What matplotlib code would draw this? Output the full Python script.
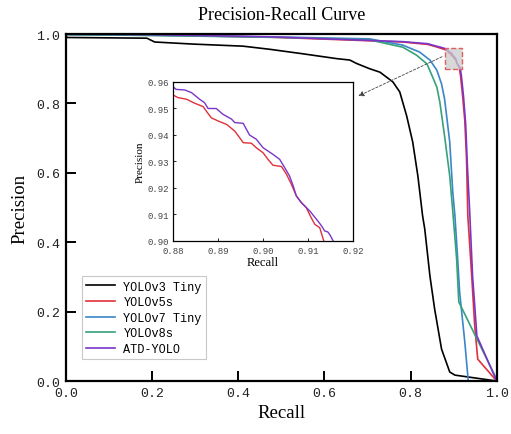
import matplotlib
matplotlib.use("Agg")
import matplotlib.pyplot as plt
from matplotlib.patches import Rectangle

# ---- data ----
recall_v3 = [0.0, 0.003, 0.188, 0.206, 0.295, 0.411, 0.473, 0.55, 0.629, 0.659, 0.675,
             0.705, 0.729, 0.759, 0.775, 0.791, 0.805, 0.817, 0.828, 0.833, 0.845,
             0.856, 0.872, 0.891, 0.903, 1.0]
prec_v3 = [0.995, 0.99, 0.988, 0.977, 0.971, 0.965, 0.956, 0.943, 0.929, 0.925, 0.915,
           0.9, 0.89, 0.862, 0.833, 0.764, 0.689, 0.591, 0.476, 0.438, 0.303,
           0.207, 0.092, 0.026, 0.017, 0.0]

recall_v5 = [0.0, 0.2, 0.473, 0.629, 0.782, 0.84, 0.86, 0.87,
             0.88, 0.8811, 0.883, 0.8848, 0.8867, 0.8874, 0.8885, 0.89, 0.8919, 0.8937,
             0.8948, 0.8956, 0.8974, 0.8985, 0.9, 0.9011, 0.9022, 0.9041, 0.9052, 0.9063,
             0.9074, 0.9085, 0.9096, 0.9107, 0.9115, 0.9126, 0.9135,
             0.916, 0.921, 0.926, 0.930, 0.933, 0.942, 0.949, 0.956, 1.0]
prec_v5 = [0.999, 0.997, 0.991, 0.984, 0.977, 0.97, 0.963, 0.959,
           0.9551, 0.9541, 0.9535, 0.952, 0.9507, 0.949, 0.9465, 0.9453, 0.944, 0.9415,
           0.939, 0.9371, 0.9369, 0.9352, 0.9333, 0.9308, 0.9286, 0.9281, 0.9252, 0.9214,
           0.917, 0.9145, 0.9126, 0.9088, 0.9063, 0.905, 0.90,
           0.88, 0.82, 0.75, 0.64, 0.476, 0.303, 0.159, 0.063, 0.0]

recall_v7 = [0.0, 0.2, 0.4, 0.55, 0.705, 0.782, 0.821, 0.845, 0.861, 0.872, 0.879,
             0.891, 0.898, 0.903, 0.908, 0.914, 0.926, 0.934, 1.0]
prec_v7 = [0.998, 0.996, 0.993, 0.99, 0.986, 0.968, 0.948, 0.925, 0.896, 0.856, 0.813,
           0.689, 0.545, 0.476, 0.38, 0.256, 0.112, 0.0, 0.0]

recall_v8 = [0.0, 0.2, 0.4, 0.55, 0.705, 0.782, 0.814, 0.838, 0.852, 0.861, 0.868,
             0.879, 0.891, 0.898, 0.907, 0.912, 1.0]
prec_v8 = [0.999, 0.996, 0.992, 0.989, 0.983, 0.962, 0.939, 0.914, 0.874, 0.847, 0.804,
           0.706, 0.591, 0.49, 0.352, 0.228, 0.005]

recall_atd = [0.0, 0.2, 0.473, 0.629, 0.782, 0.84, 0.86, 0.87,
              0.88, 0.8807, 0.8826, 0.8841, 0.8859, 0.887, 0.8878, 0.8896, 0.8911, 0.893,
              0.8937, 0.8956, 0.8959, 0.897, 0.8985, 0.9, 0.9022, 0.9037, 0.9048, 0.9059,
              0.9067, 0.9074, 0.9085, 0.9104, 0.9122, 0.913, 0.9137, 0.9144, 0.9148, 0.9156,
              0.918, 0.923, 0.928, 0.932, 0.937, 0.944, 0.950, 0.954, 1.0]
prec_atd = [1.0, 0.998, 0.992, 0.985, 0.978, 0.972, 0.965, 0.962,
            0.9582, 0.9572, 0.957, 0.956, 0.9535, 0.9522, 0.950, 0.950, 0.9478, 0.946,
            0.9447, 0.9444, 0.9434, 0.940, 0.9384, 0.9352, 0.9327, 0.9308, 0.9277, 0.9245,
            0.9208, 0.917, 0.9145, 0.9113, 0.9075, 0.9057, 0.9038, 0.9034, 0.9025, 0.90,
            0.88, 0.82, 0.74, 0.62, 0.496, 0.303, 0.2, 0.13, 0.0]

models = ["YOLOv3 Tiny", "YOLOv5s", "YOLOv7 Tiny", "YOLOv8s", "ATD-YOLO"]
colors = ["#000000", "#e0303a", "#3a86c8", "#35a27a", "#7a35c8"]
curves = [(recall_v3, prec_v3), (recall_v5, prec_v5), (recall_v7, prec_v7),
          (recall_v8, prec_v8), (recall_atd, prec_atd)]

ticks = [0.0, 0.2, 0.4, 0.6, 0.8, 1.0]
tick_labels = ["0.0", "0.2", "0.4", "0.6", "0.8", "1.0"]
inset_xticks = [0.88, 0.89, 0.90, 0.91, 0.92]
inset_yticks = [0.90, 0.91, 0.92, 0.93, 0.94, 0.95, 0.96]

serif = "Liberation Serif"
mono = "Liberation Mono"

fig = plt.figure(figsize=(5.11, 4.35), dpi=100)
ax = fig.add_axes([0.129, 0.1218, 0.843, 0.7977])

for (r, p), c, m in zip(curves, colors, models):
    ax.plot(r, p, color=c, lw=1.2, label=m)

ax.set_xlim(0, 1)
ax.set_ylim(0, 1)
ax.set_xticks(ticks)
ax.set_xticklabels(tick_labels, family=mono, fontsize=9.5, color="#222222")
ax.set_yticks(ticks)
ax.set_yticklabels(tick_labels, family=mono, fontsize=9.5, color="#222222")
ax.tick_params(direction="in", length=7, width=1.4, top=False, right=False, pad=4)
for s in ax.spines.values():
    s.set_linewidth(1.6)
ax.set_xlabel("Recall", family=serif, fontsize=13.5, labelpad=4)
ax.set_ylabel("Precision", family=serif, fontsize=13.5, labelpad=6)
ax.set_title("Precision-Recall Curve", family=serif, fontsize=13, pad=11)

leg = ax.legend(loc="lower left", bbox_to_anchor=(0.038, 0.063), prop={"family": mono, "size": 8.6},
                frameon=True, fancybox=False, edgecolor="#bbbbbb", labelspacing=0.3,
                handlelength=2.4, borderpad=0.35, handletextpad=0.7, borderaxespad=0)
leg.get_frame().set_linewidth(0.8)

# zoom region marker
ax.add_patch(Rectangle((0.88, 0.90), 0.04, 0.06, facecolor=(0.8, 0.8, 0.8, 0.75),
                       edgecolor="#e06060", linestyle="--", lw=1.0, zorder=5))
ax.annotate("", xy=(0.673, 0.818), xytext=(0.879, 0.938),
            arrowprops=dict(arrowstyle="-|>", color="#444444", lw=0.6, linestyle=(0, (3, 2)),
                            mutation_scale=8), zorder=6)

# inset
ins = fig.add_axes([0.3386, 0.4437, 0.3523, 0.3655])
ins.plot(recall_v5, prec_v5, color=colors[1], lw=1.0)
ins.plot(recall_atd, prec_atd, color=colors[4], lw=1.0)
ins.set_xlim(0.88, 0.92)
ins.set_ylim(0.90, 0.96)
ins.set_xticks(inset_xticks)
ins.set_xticklabels(["%.2f" % v for v in inset_xticks], family=mono, fontsize=6.5, color="#444444")
ins.set_yticks(inset_yticks)
ins.set_yticklabels(["%.2f" % v for v in inset_yticks], family=mono, fontsize=6.5, color="#444444")
ins.tick_params(direction="in", length=2, width=0.6)
ins.tick_params(axis="x", pad=3.5)
ins.tick_params(axis="y", pad=3)
for s in ins.spines.values():
    s.set_linewidth(0.9)
ins.set_xlabel("Recall", family=serif, fontsize=9, labelpad=1)
ins.set_ylabel("Precision", family=serif, fontsize=8, labelpad=2)

fig.savefig("out.png", dpi=100)
